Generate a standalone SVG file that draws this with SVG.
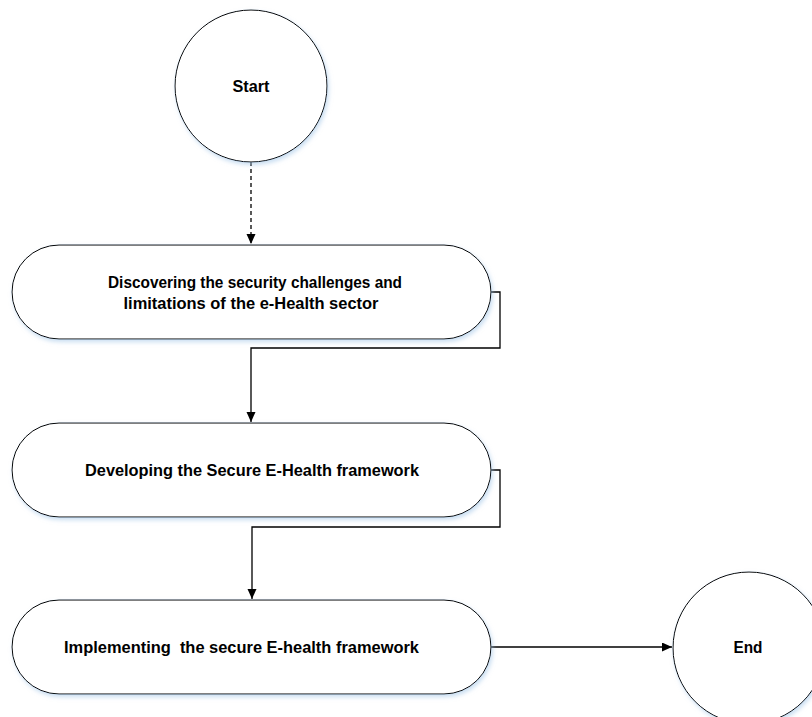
<svg xmlns="http://www.w3.org/2000/svg" width="812" height="717" viewBox="0 0 812 717">
  <style>
    .shape { fill: #ffffff; stroke: #000000; stroke-width: 1; filter: url(#shadow); }
    .label { font-family: "Liberation Sans", Arial, sans-serif; font-weight: bold; font-size: 16px; fill: #000000; text-anchor: middle; white-space: pre; }
    .conn { fill: none; stroke: #000000; stroke-width: 1.3; }
    .dashed { stroke-dasharray: 4 3; }
  </style>
  <defs>
    <filter id="shadow" x="-10%" y="-10%" width="125%" height="130%">
      <feDropShadow dx="1.5" dy="2.5" stdDeviation="2" flood-color="#9dc3e6" flood-opacity="0.55"/>
    </filter>
    <marker id="arrow" markerWidth="11" markerHeight="10" refX="10" refY="4.5" orient="auto" markerUnits="userSpaceOnUse">
      <path d="M0,0 L10,4.5 L0,9 Z" fill="#000000"/>
    </marker>
  </defs>
  <rect width="812" height="717" fill="#ffffff"/>

  <g id="connectors">
    <path class="conn dashed" d="M251,162 V244" marker-end="url(#arrow)"/>
    <path class="conn" d="M491,292 H500 V348 H251 V422" marker-end="url(#arrow)"/>
    <path class="conn" d="M491,470 H500 V527 H252 V599" marker-end="url(#arrow)"/>
    <path class="conn" d="M491,647 H672" marker-end="url(#arrow)"/>
  </g>

  <g id="start">
    <circle class="shape" cx="251" cy="86" r="76"/>
    <text class="label" x="251" y="92" textLength="37" lengthAdjust="spacingAndGlyphs">Start</text>
  </g>

  <g id="discover">
    <rect class="shape" x="12" y="245" width="479" height="94" rx="47" ry="47"/>
    <text class="label" x="255" y="288" textLength="294" lengthAdjust="spacingAndGlyphs">Discovering the security challenges and</text>
    <text class="label" x="251" y="309" textLength="255" lengthAdjust="spacingAndGlyphs">limitations of the e-Health sector</text>
  </g>

  <g id="develop">
    <rect class="shape" x="12" y="423" width="479" height="94" rx="47" ry="47"/>
    <text class="label" x="252" y="476" textLength="334" lengthAdjust="spacingAndGlyphs">Developing the Secure E-Health framework</text>
  </g>

  <g id="implement">
    <rect class="shape" x="12" y="600" width="479" height="94" rx="47" ry="47"/>
    <text class="label" x="241.5" y="653" textLength="355" lengthAdjust="spacingAndGlyphs">Implementing  the secure E-health framework</text>
  </g>

  <g id="end">
    <circle class="shape" cx="749" cy="648" r="76"/>
    <text class="label" x="748" y="653" textLength="29" lengthAdjust="spacingAndGlyphs">End</text>
  </g>
</svg>
